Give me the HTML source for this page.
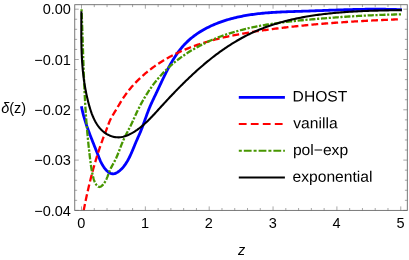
<!DOCTYPE html>
<html><head><meta charset="utf-8"><title>plot</title>
<style>
html,body{margin:0;padding:0;background:#fff;}
body{width:409px;height:260px;overflow:hidden;}
svg{display:block;will-change:transform;}
text{font-family:"Liberation Sans",sans-serif;font-size:14.5px;fill:#000;}
</style></head><body>
<svg width="409" height="260" viewBox="0 0 409 260">
<rect x="0" y="0" width="409" height="260" fill="#fff"/>
<defs><clipPath id="cp"><rect x="74.75" y="4.7" width="332.55" height="205.70000000000002"/></clipPath></defs>
<g clip-path="url(#cp)" fill="none" stroke-linejoin="round">
<path d="M81.42 106.19 L81.71 107.69 L82.02 109.18 L82.35 110.66 L82.69 112.13 L83.06 113.60 L83.44 115.07 L83.84 116.53 L84.25 117.98 L84.68 119.43 L85.12 120.87 L85.58 122.31 L86.05 123.75 L86.53 125.18 L87.02 126.61 L87.52 128.04 L88.03 129.46 L88.55 130.88 L89.07 132.30 L89.61 133.71 L90.14 135.13 L90.69 136.54 L91.24 137.95 L91.79 139.36 L92.35 140.77 L92.91 142.17 L93.47 143.58 L94.03 144.99 L94.59 146.40 L95.15 147.80 L95.71 149.21 L96.27 150.62 L96.83 152.03 L97.38 153.45 L97.92 154.86 L98.47 156.27 L99.03 157.68 L99.60 159.08 L100.19 160.47 L100.82 161.85 L101.49 163.20 L102.21 164.53 L102.98 165.83 L103.82 167.10 L104.73 168.34 L105.72 169.53 L106.79 170.68 L107.96 171.74 L109.21 172.64 L110.53 173.32 L111.92 173.73 L113.32 173.84 L114.71 173.62 L116.07 173.11 L117.38 172.38 L118.64 171.52 L119.83 170.58 L120.97 169.56 L122.04 168.48 L123.06 167.35 L124.03 166.16 L124.94 164.93 L125.81 163.66 L126.64 162.36 L127.43 161.04 L128.18 159.71 L128.89 158.36 L129.57 157.00 L130.23 155.64 L130.86 154.27 L131.47 152.90 L132.07 151.52 L132.65 150.14 L133.22 148.75 L133.79 147.37 L134.36 145.98 L134.93 144.59 L135.50 143.21 L136.08 141.82 L136.68 140.44 L137.29 139.06 L137.91 137.68 L138.54 136.29 L139.16 134.91 L139.77 133.52 L140.36 132.11 L140.93 130.70 L141.49 129.29 L142.04 127.87 L142.58 126.44 L143.11 125.01 L143.63 123.58 L144.14 122.15 L144.66 120.71 L145.17 119.28 L145.68 117.85 L146.19 116.43 L146.71 115.01 L147.23 113.59 L147.76 112.18 L148.29 110.78 L148.84 109.39 L149.40 108.00 L149.98 106.63 L150.56 105.27 L151.16 103.91 L151.77 102.57 L152.39 101.22 L153.02 99.88 L153.65 98.54 L154.29 97.20 L154.93 95.86 L155.58 94.52 L156.22 93.17 L156.87 91.81 L157.51 90.45 L158.16 89.08 L158.81 87.71 L159.45 86.33 L160.10 84.94 L160.76 83.56 L161.41 82.17 L162.07 80.77 L162.73 79.38 L163.40 77.99 L164.07 76.60 L164.75 75.21 L165.44 73.82 L166.13 72.44 L166.83 71.06 L167.54 69.68 L168.26 68.32 L168.98 66.95 L169.72 65.60 L170.47 64.25 L171.23 62.92 L172.00 61.59 L172.79 60.27 L173.59 58.97 L174.40 57.68 L175.23 56.40 L176.07 55.14 L176.93 53.89 L177.80 52.66 L178.70 51.44 L179.60 50.24 L180.53 49.06 L181.48 47.90 L182.44 46.76 L183.43 45.64 L184.44 44.54 L185.46 43.46 L186.51 42.41 L187.58 41.38 L188.67 40.37 L189.78 39.39 L190.91 38.43 L192.06 37.48 L193.23 36.56 L194.41 35.67 L195.61 34.79 L196.83 33.93 L198.07 33.10 L199.32 32.28 L200.59 31.49 L201.87 30.71 L203.16 29.96 L204.47 29.22 L205.80 28.51 L207.13 27.81 L208.48 27.13 L209.84 26.47 L211.21 25.83 L212.60 25.21 L213.99 24.61 L215.39 24.02 L216.80 23.45 L218.22 22.90 L219.65 22.37 L221.09 21.85 L222.53 21.35 L223.99 20.86 L225.44 20.40 L226.91 19.94 L228.37 19.51 L229.85 19.09 L231.33 18.68 L232.81 18.29 L234.29 17.92 L235.78 17.56 L237.27 17.21 L238.76 16.88 L240.25 16.56 L241.75 16.26 L243.24 15.97 L244.74 15.69 L246.23 15.43 L247.73 15.17 L249.23 14.93 L250.72 14.70 L252.22 14.49 L253.72 14.28 L255.22 14.08 L256.72 13.90 L258.23 13.72 L259.73 13.55 L261.23 13.40 L262.74 13.25 L264.24 13.11 L265.74 12.97 L267.25 12.85 L268.75 12.73 L270.26 12.62 L271.77 12.52 L273.27 12.42 L274.78 12.33 L276.29 12.24 L277.80 12.16 L279.31 12.08 L280.82 12.01 L282.33 11.94 L283.84 11.87 L285.35 11.81 L286.86 11.75 L288.37 11.70 L289.88 11.64 L291.39 11.59 L292.90 11.54 L294.42 11.49 L295.93 11.44 L297.44 11.40 L298.95 11.35 L300.47 11.30 L301.98 11.25 L303.49 11.20 L305.00 11.15 L306.52 11.10 L308.03 11.04 L309.54 10.99 L311.06 10.94 L312.57 10.88 L314.09 10.83 L315.60 10.77 L317.11 10.71 L318.63 10.66 L320.14 10.60 L321.66 10.55 L323.17 10.49 L324.68 10.43 L326.20 10.38 L327.71 10.32 L329.23 10.26 L330.74 10.21 L332.26 10.16 L333.77 10.10 L335.29 10.05 L336.80 10.00 L338.31 9.94 L339.83 9.89 L341.34 9.84 L342.86 9.80 L344.37 9.75 L345.89 9.70 L347.40 9.66 L348.92 9.62 L350.43 9.58 L351.95 9.54 L353.46 9.50 L354.98 9.46 L356.49 9.43 L358.01 9.40 L359.52 9.37 L361.04 9.34 L362.55 9.31 L364.06 9.29 L365.58 9.27 L367.09 9.25 L368.61 9.24 L370.12 9.23 L371.64 9.22 L373.15 9.21 L374.66 9.21 L376.18 9.21 L377.69 9.21 L379.21 9.21 L380.72 9.22 L382.23 9.24 L383.75 9.25 L385.26 9.27 L386.77 9.29 L388.29 9.32 L389.80 9.35 L391.31 9.39 L392.83 9.43 L394.34 9.47 L395.85 9.52 L397.36 9.57 L398.88 9.63 L400.39 9.69 L401.90 9.75" stroke="#0000ff" stroke-width="2.8"/>
<path d="M83.00 214.00 L83.26 212.62 L83.53 211.25 L83.80 209.87 L84.07 208.49 L84.34 207.11 L84.62 205.74 L84.89 204.36 L85.18 202.99 L85.46 201.61 L85.75 200.24 L86.04 198.86 L86.33 197.49 L86.63 196.11 L86.93 194.74 L87.23 193.37 L87.54 192.00 L87.85 190.63 L88.16 189.26 L88.47 187.89 L88.79 186.52 L89.12 185.15 L89.44 183.78 L89.78 182.42 L90.11 181.05 L90.45 179.69 L90.79 178.33 L91.14 176.97 L91.49 175.61 L91.84 174.25 L92.20 172.89 L92.56 171.53 L92.93 170.18 L93.30 168.82 L93.68 167.47 L94.06 166.12 L94.44 164.77 L94.83 163.42 L95.23 162.07 L95.62 160.73 L96.03 159.39 L96.44 158.04 L96.85 156.70 L97.27 155.37 L97.69 154.03 L98.12 152.69 L98.55 151.36 L98.99 150.03 L99.43 148.70 L99.88 147.37 L100.33 146.05 L100.79 144.73 L101.26 143.41 L101.73 142.09 L102.20 140.77 L102.68 139.46 L103.17 138.15 L103.66 136.84 L104.16 135.53 L104.67 134.22 L105.18 132.92 L105.69 131.62 L106.20 130.32 L106.70 129.01 L107.20 127.71 L107.68 126.39 L108.15 125.08 L108.64 123.77 L109.13 122.47 L109.65 121.18 L110.20 119.91 L110.80 118.66 L111.44 117.43 L112.13 116.22 L112.85 115.03 L113.59 113.85 L114.33 112.66 L115.06 111.48 L115.78 110.29 L116.50 109.09 L117.21 107.89 L117.92 106.69 L118.63 105.49 L119.34 104.29 L120.05 103.10 L120.78 101.90 L121.51 100.71 L122.25 99.53 L123.01 98.36 L123.79 97.19 L124.58 96.03 L125.39 94.89 L126.22 93.75 L127.06 92.62 L127.92 91.50 L128.79 90.39 L129.68 89.29 L130.59 88.20 L131.51 87.12 L132.44 86.06 L133.38 85.00 L134.34 83.95 L135.31 82.92 L136.30 81.89 L137.29 80.88 L138.30 79.88 L139.32 78.89 L140.35 77.91 L141.38 76.94 L142.43 75.99 L143.49 75.05 L144.56 74.12 L145.63 73.20 L146.72 72.30 L147.81 71.40 L148.90 70.53 L150.01 69.66 L151.12 68.81 L152.24 67.97 L153.37 67.14 L154.51 66.33 L155.65 65.52 L156.79 64.73 L157.95 63.95 L159.11 63.19 L160.28 62.43 L161.45 61.69 L162.63 60.96 L163.82 60.24 L165.01 59.53 L166.21 58.83 L167.41 58.14 L168.62 57.47 L169.84 56.80 L171.06 56.15 L172.29 55.51 L173.52 54.88 L174.76 54.25 L176.01 53.64 L177.26 53.04 L178.51 52.45 L179.77 51.87 L181.03 51.29 L182.30 50.73 L183.58 50.18 L184.86 49.63 L186.14 49.10 L187.43 48.58 L188.72 48.06 L190.02 47.55 L191.32 47.05 L192.62 46.57 L193.93 46.08 L195.25 45.61 L196.56 45.15 L197.88 44.69 L199.21 44.25 L200.54 43.81 L201.87 43.37 L203.21 42.95 L204.54 42.53 L205.89 42.13 L207.23 41.73 L208.58 41.33 L209.93 40.94 L211.29 40.57 L212.64 40.19 L214.00 39.83 L215.37 39.47 L216.73 39.12 L218.10 38.77 L219.47 38.43 L220.84 38.10 L222.22 37.77 L223.59 37.45 L224.97 37.13 L226.35 36.82 L227.74 36.52 L229.12 36.22 L230.51 35.93 L231.90 35.64 L233.29 35.36 L234.68 35.08 L236.07 34.81 L237.46 34.54 L238.86 34.27 L240.25 34.02 L241.65 33.76 L243.05 33.51 L244.45 33.27 L245.84 33.02 L247.24 32.79 L248.64 32.55 L250.04 32.32 L251.45 32.10 L252.85 31.87 L254.25 31.65 L255.65 31.44 L257.05 31.22 L258.45 31.01 L259.85 30.81 L261.26 30.60 L262.66 30.40 L264.06 30.20 L265.46 30.00 L266.86 29.81 L268.25 29.62 L269.65 29.43 L271.05 29.24 L272.45 29.06 L273.84 28.87 L275.24 28.69 L276.63 28.51 L278.03 28.34 L279.42 28.16 L280.82 27.99 L282.21 27.82 L283.61 27.65 L285.00 27.49 L286.39 27.32 L287.78 27.16 L289.18 27.00 L290.57 26.85 L291.96 26.69 L293.35 26.54 L294.74 26.39 L296.13 26.24 L297.53 26.09 L298.92 25.94 L300.31 25.80 L301.70 25.66 L303.09 25.52 L304.48 25.38 L305.87 25.24 L307.26 25.11 L308.65 24.98 L310.04 24.85 L311.43 24.72 L312.82 24.59 L314.20 24.46 L315.59 24.34 L316.98 24.22 L318.37 24.10 L319.76 23.98 L321.15 23.86 L322.54 23.74 L323.93 23.63 L325.32 23.52 L326.71 23.41 L328.10 23.30 L329.50 23.19 L330.89 23.08 L332.28 22.98 L333.67 22.87 L335.06 22.77 L336.45 22.67 L337.84 22.57 L339.24 22.47 L340.63 22.37 L342.02 22.28 L343.42 22.18 L344.81 22.09 L346.20 22.00 L347.60 21.91 L348.99 21.82 L350.39 21.73 L351.78 21.64 L353.18 21.56 L354.58 21.47 L355.97 21.39 L357.37 21.30 L358.77 21.22 L360.17 21.14 L361.57 21.06 L362.97 20.98 L364.37 20.91 L365.77 20.83 L367.17 20.75 L368.57 20.68 L369.98 20.61 L371.38 20.53 L372.79 20.46 L374.19 20.39 L375.60 20.32 L377.00 20.25 L378.41 20.18 L379.82 20.12 L381.23 20.05 L382.64 19.98 L384.05 19.92 L385.46 19.85 L386.87 19.79 L388.28 19.73 L389.70 19.66 L391.11 19.60 L392.53 19.54 L393.95 19.48 L395.36 19.42 L396.78 19.36 L398.20 19.30" stroke="#ff0000" stroke-width="2.3" stroke-dasharray="6.85 3.125" stroke-dashoffset="6.6"/>
<path d="M81.50 8.70 L81.58 10.59 L81.66 12.48 L81.73 14.37 L81.81 16.26 L81.89 18.15 L81.96 20.04 L82.03 21.93 L82.10 23.82 L82.17 25.71 L82.23 27.60 L82.30 29.49 L82.37 31.38 L82.43 33.27 L82.49 35.16 L82.56 37.05 L82.62 38.94 L82.68 40.83 L82.74 42.72 L82.80 44.61 L82.87 46.50 L82.93 48.39 L82.99 50.28 L83.05 52.17 L83.11 54.06 L83.17 55.95 L83.24 57.83 L83.30 59.72 L83.36 61.61 L83.43 63.50 L83.49 65.39 L83.56 67.28 L83.63 69.17 L83.70 71.06 L83.77 72.95 L83.84 74.84 L83.91 76.73 L83.99 78.62 L84.07 80.50 L84.15 82.39 L84.23 84.28 L84.31 86.17 L84.39 88.06 L84.48 89.95 L84.57 91.83 L84.66 93.72 L84.76 95.61 L84.86 97.50 L84.96 99.39 L85.06 101.27 L85.17 103.16 L85.28 105.05 L85.39 106.93 L85.51 108.82 L85.63 110.71 L85.75 112.60 L85.88 114.48 L86.01 116.37 L86.14 118.25 L86.28 120.14 L86.43 122.03 L86.57 123.91 L86.72 125.80 L86.88 127.68 L87.04 129.57 L87.21 131.45 L87.37 133.34 L87.55 135.22 L87.73 137.11 L87.91 138.99 L88.10 140.87 L88.29 142.75 L88.48 144.63 L88.68 146.51 L88.89 148.39 L89.10 150.27 L89.31 152.15 L89.53 154.02 L89.75 155.90 L89.97 157.77 L90.20 159.64 L90.44 161.51 L90.68 163.38 L90.93 165.25 L91.21 167.11 L91.50 168.97 L91.82 170.83 L92.18 172.68 L92.57 174.54 L93.00 176.38 L93.48 178.22 L94.02 180.06 L94.68 181.89 L95.58 183.69 L96.76 185.36 L98.15 186.58 L99.64 187.00 L101.15 186.46 L102.59 185.21 L103.90 183.57 L105.02 181.84 L105.97 180.10 L106.77 178.36 L107.48 176.62 L108.13 174.89 L108.76 173.16 L109.41 171.44 L110.13 169.74 L110.93 168.05 L111.79 166.38 L112.69 164.70 L113.61 163.03 L114.51 161.34 L115.38 159.65 L116.20 157.93 L116.97 156.20 L117.71 154.46 L118.41 152.71 L119.10 150.96 L119.78 149.20 L120.45 147.43 L121.13 145.68 L121.82 143.92 L122.53 142.17 L123.28 140.44 L124.05 138.71 L124.87 137.00 L125.71 135.30 L126.56 133.60 L127.43 131.92 L128.31 130.23 L129.18 128.55 L130.05 126.86 L130.89 125.18 L131.71 123.49 L132.51 121.79 L133.28 120.09 L134.05 118.39 L134.81 116.68 L135.58 114.98 L136.36 113.28 L137.16 111.58 L137.99 109.88 L138.83 108.19 L139.69 106.51 L140.57 104.83 L141.47 103.16 L142.38 101.49 L143.32 99.84 L144.28 98.19 L145.26 96.55 L146.26 94.93 L147.27 93.31 L148.31 91.71 L149.37 90.12 L150.44 88.55 L151.54 86.99 L152.66 85.45 L153.80 83.92 L154.95 82.41 L156.13 80.92 L157.33 79.45 L158.55 78.00 L159.79 76.57 L161.05 75.16 L162.33 73.77 L163.63 72.40 L164.95 71.05 L166.29 69.73 L167.64 68.43 L169.02 67.14 L170.41 65.88 L171.83 64.64 L173.26 63.42 L174.70 62.22 L176.16 61.04 L177.64 59.88 L179.14 58.74 L180.65 57.63 L182.17 56.53 L183.71 55.45 L185.27 54.39 L186.84 53.35 L188.42 52.33 L190.01 51.33 L191.62 50.35 L193.24 49.39 L194.87 48.45 L196.52 47.52 L198.17 46.62 L199.84 45.73 L201.52 44.86 L203.20 44.02 L204.90 43.18 L206.61 42.37 L208.32 41.58 L210.05 40.80 L211.78 40.04 L213.52 39.30 L215.27 38.58 L217.02 37.88 L218.79 37.19 L220.55 36.52 L222.33 35.87 L224.11 35.23 L225.90 34.61 L227.69 34.01 L229.48 33.43 L231.28 32.86 L233.09 32.30 L234.89 31.77 L236.71 31.25 L238.52 30.74 L240.34 30.25 L242.17 29.77 L244.00 29.31 L245.83 28.86 L247.67 28.42 L249.50 28.00 L251.35 27.59 L253.19 27.20 L255.04 26.81 L256.89 26.44 L258.75 26.08 L260.60 25.73 L262.46 25.39 L264.33 25.06 L266.19 24.75 L268.06 24.44 L269.93 24.14 L271.80 23.85 L273.67 23.57 L275.55 23.30 L277.42 23.04 L279.30 22.78 L281.18 22.54 L283.06 22.30 L284.94 22.07 L286.83 21.84 L288.71 21.62 L290.59 21.41 L292.48 21.20 L294.37 21.00 L296.25 20.81 L298.14 20.62 L300.03 20.43 L301.92 20.25 L303.81 20.07 L305.69 19.90 L307.58 19.72 L309.47 19.56 L311.36 19.39 L313.24 19.23 L315.13 19.07 L317.02 18.91 L318.90 18.75 L320.78 18.59 L322.67 18.44 L324.55 18.29 L326.44 18.14 L328.32 17.99 L330.20 17.85 L332.08 17.70 L333.96 17.56 L335.85 17.42 L337.73 17.29 L339.61 17.15 L341.49 17.02 L343.37 16.89 L345.25 16.76 L347.13 16.64 L349.01 16.52 L350.89 16.40 L352.78 16.28 L354.66 16.17 L356.54 16.06 L358.42 15.95 L360.30 15.84 L362.19 15.74 L364.07 15.64 L365.95 15.55 L367.84 15.45 L369.72 15.36 L371.61 15.28 L373.50 15.19 L375.38 15.11 L377.27 15.03 L379.16 14.96 L381.05 14.89 L382.94 14.82 L384.83 14.76 L386.72 14.70 L388.62 14.64 L390.51 14.59 L392.41 14.54 L394.30 14.50 L396.20 14.45 L398.10 14.42 L400.00 14.38 L401.90 14.35" stroke="#479600" stroke-width="2.3" stroke-dasharray="6.2 1.6 2.2 1.7" stroke-dashoffset="7.3"/>
<path d="M81.40 11.29 L81.40 12.90 L81.39 14.50 L81.38 16.10 L81.37 17.70 L81.36 19.29 L81.35 20.88 L81.34 22.46 L81.33 24.04 L81.33 25.62 L81.32 27.19 L81.32 28.76 L81.32 30.32 L81.32 31.88 L81.32 33.44 L81.32 35.00 L81.33 36.55 L81.34 38.11 L81.36 39.65 L81.38 41.20 L81.40 42.74 L81.43 44.29 L81.46 45.83 L81.49 47.36 L81.54 48.90 L81.58 50.44 L81.64 51.97 L81.69 53.50 L81.76 55.03 L81.83 56.56 L81.91 58.09 L82.00 59.62 L82.09 61.15 L82.19 62.68 L82.30 64.21 L82.42 65.73 L82.54 67.26 L82.68 68.79 L82.82 70.32 L82.97 71.84 L83.14 73.37 L83.31 74.90 L83.49 76.43 L83.68 77.96 L83.89 79.50 L84.10 81.03 L84.33 82.57 L84.57 84.10 L84.82 85.64 L85.08 87.18 L85.35 88.72 L85.64 90.27 L85.94 91.81 L86.25 93.36 L86.58 94.92 L86.92 96.47 L87.27 98.03 L87.64 99.59 L88.02 101.15 L88.42 102.72 L88.84 104.28 L89.27 105.85 L89.72 107.41 L90.19 108.97 L90.69 110.52 L91.21 112.05 L91.75 113.57 L92.33 115.07 L92.93 116.54 L93.57 117.99 L94.24 119.42 L94.94 120.81 L95.68 122.17 L96.46 123.49 L97.28 124.78 L98.15 126.02 L99.05 127.21 L100.01 128.36 L101.01 129.46 L102.06 130.50 L103.16 131.48 L104.31 132.40 L105.52 133.26 L106.79 134.05 L108.11 134.77 L109.49 135.42 L110.93 136.00 L112.42 136.48 L113.93 136.87 L115.47 137.15 L117.03 137.32 L118.59 137.37 L120.14 137.29 L121.69 137.07 L123.21 136.74 L124.72 136.31 L126.20 135.79 L127.67 135.20 L129.11 134.55 L130.52 133.84 L131.90 133.11 L133.25 132.34 L134.58 131.53 L135.88 130.69 L137.15 129.83 L138.41 128.93 L139.64 128.01 L140.85 127.06 L142.04 126.09 L143.22 125.09 L144.37 124.07 L145.51 123.04 L146.64 121.98 L147.76 120.91 L148.86 119.82 L149.95 118.72 L151.03 117.60 L152.11 116.47 L153.18 115.34 L154.24 114.19 L155.30 113.04 L156.36 111.89 L157.41 110.73 L158.46 109.56 L159.52 108.40 L160.58 107.24 L161.64 106.08 L162.70 104.92 L163.76 103.76 L164.83 102.60 L165.90 101.44 L166.97 100.29 L168.05 99.13 L169.13 97.98 L170.21 96.83 L171.29 95.69 L172.38 94.54 L173.47 93.40 L174.56 92.27 L175.66 91.13 L176.76 90.00 L177.86 88.87 L178.97 87.74 L180.08 86.62 L181.19 85.51 L182.31 84.39 L183.43 83.28 L184.55 82.18 L185.68 81.07 L186.81 79.98 L187.95 78.89 L189.08 77.80 L190.23 76.72 L191.37 75.64 L192.52 74.57 L193.68 73.50 L194.83 72.44 L196.00 71.38 L197.16 70.33 L198.33 69.29 L199.51 68.25 L200.69 67.22 L201.87 66.20 L203.06 65.18 L204.25 64.17 L205.44 63.16 L206.64 62.17 L207.85 61.18 L209.06 60.19 L210.27 59.22 L211.49 58.25 L212.72 57.29 L213.94 56.34 L215.18 55.40 L216.42 54.46 L217.66 53.54 L218.91 52.62 L220.16 51.71 L221.42 50.81 L222.68 49.92 L223.95 49.04 L225.22 48.16 L226.50 47.30 L227.79 46.45 L229.08 45.60 L230.37 44.77 L231.67 43.95 L232.98 43.13 L234.29 42.33 L235.61 41.54 L236.93 40.76 L238.26 39.99 L239.60 39.23 L240.94 38.48 L242.28 37.74 L243.64 37.02 L245.00 36.30 L246.36 35.60 L247.73 34.91 L249.11 34.23 L250.49 33.57 L251.88 32.92 L253.27 32.27 L254.68 31.65 L256.08 31.03 L257.50 30.43 L258.92 29.84 L260.34 29.26 L261.77 28.69 L263.21 28.13 L264.65 27.59 L266.10 27.06 L267.55 26.53 L269.01 26.02 L270.47 25.53 L271.94 25.04 L273.42 24.56 L274.89 24.09 L276.38 23.64 L277.86 23.19 L279.35 22.76 L280.85 22.33 L282.35 21.92 L283.85 21.51 L285.36 21.12 L286.87 20.73 L288.39 20.36 L289.90 19.99 L291.43 19.63 L292.95 19.29 L294.48 18.95 L296.01 18.62 L297.55 18.30 L299.09 17.98 L300.63 17.68 L302.17 17.38 L303.72 17.10 L305.27 16.82 L306.82 16.55 L308.38 16.28 L309.93 16.03 L311.49 15.78 L313.05 15.54 L314.61 15.31 L316.18 15.08 L317.74 14.86 L319.31 14.65 L320.88 14.45 L322.45 14.25 L324.02 14.06 L325.60 13.87 L327.17 13.70 L328.75 13.52 L330.32 13.36 L331.90 13.20 L333.48 13.04 L335.06 12.89 L336.63 12.75 L338.21 12.61 L339.79 12.48 L341.37 12.35 L342.95 12.23 L344.53 12.12 L346.11 12.00 L347.69 11.90 L349.26 11.79 L350.84 11.70 L352.42 11.60 L353.99 11.51 L355.57 11.43 L357.14 11.34 L358.72 11.27 L360.29 11.19 L361.86 11.12 L363.43 11.05 L365.00 10.99 L366.56 10.93 L368.13 10.87 L369.69 10.81 L371.25 10.76 L372.81 10.71 L374.37 10.66 L375.92 10.62 L377.47 10.58 L379.02 10.54 L380.57 10.50 L382.11 10.46 L383.65 10.43 L385.19 10.39 L386.73 10.36 L388.26 10.33 L389.79 10.30 L391.31 10.27 L392.84 10.25 L394.36 10.22 L395.87 10.20 L397.38 10.17 L398.89 10.15 L400.39 10.12 L401.89 10.10" stroke="#000000" stroke-width="2.1"/>
</g>
<rect x="74.75" y="4.7" width="332.55" height="205.70000000000002" fill="none" stroke="#6a6a6a" stroke-width="0.9"/>
<path d="M81.50 210.40 v-4.00 M81.50 4.70 v4.00 M94.27 210.40 v-2.40 M94.27 4.70 v2.40 M107.04 210.40 v-2.40 M107.04 4.70 v2.40 M119.81 210.40 v-2.40 M119.81 4.70 v2.40 M132.58 210.40 v-2.40 M132.58 4.70 v2.40 M145.35 210.40 v-4.00 M145.35 4.70 v4.00 M158.12 210.40 v-2.40 M158.12 4.70 v2.40 M170.89 210.40 v-2.40 M170.89 4.70 v2.40 M183.66 210.40 v-2.40 M183.66 4.70 v2.40 M196.43 210.40 v-2.40 M196.43 4.70 v2.40 M209.20 210.40 v-4.00 M209.20 4.70 v4.00 M221.97 210.40 v-2.40 M221.97 4.70 v2.40 M234.74 210.40 v-2.40 M234.74 4.70 v2.40 M247.51 210.40 v-2.40 M247.51 4.70 v2.40 M260.28 210.40 v-2.40 M260.28 4.70 v2.40 M273.05 210.40 v-4.00 M273.05 4.70 v4.00 M285.82 210.40 v-2.40 M285.82 4.70 v2.40 M298.59 210.40 v-2.40 M298.59 4.70 v2.40 M311.36 210.40 v-2.40 M311.36 4.70 v2.40 M324.13 210.40 v-2.40 M324.13 4.70 v2.40 M336.90 210.40 v-4.00 M336.90 4.70 v4.00 M349.67 210.40 v-2.40 M349.67 4.70 v2.40 M362.44 210.40 v-2.40 M362.44 4.70 v2.40 M375.21 210.40 v-2.40 M375.21 4.70 v2.40 M387.98 210.40 v-2.40 M387.98 4.70 v2.40 M400.75 210.40 v-4.00 M400.75 4.70 v4.00 M74.75 9.20 h4.00 M407.30 9.20 h-4.00 M74.75 19.26 h2.40 M407.30 19.26 h-2.40 M74.75 29.32 h2.40 M407.30 29.32 h-2.40 M74.75 39.38 h2.40 M407.30 39.38 h-2.40 M74.75 49.44 h2.40 M407.30 49.44 h-2.40 M74.75 59.50 h4.00 M407.30 59.50 h-4.00 M74.75 69.56 h2.40 M407.30 69.56 h-2.40 M74.75 79.62 h2.40 M407.30 79.62 h-2.40 M74.75 89.68 h2.40 M407.30 89.68 h-2.40 M74.75 99.74 h2.40 M407.30 99.74 h-2.40 M74.75 109.80 h4.00 M407.30 109.80 h-4.00 M74.75 119.86 h2.40 M407.30 119.86 h-2.40 M74.75 129.92 h2.40 M407.30 129.92 h-2.40 M74.75 139.98 h2.40 M407.30 139.98 h-2.40 M74.75 150.04 h2.40 M407.30 150.04 h-2.40 M74.75 160.10 h4.00 M407.30 160.10 h-4.00 M74.75 170.16 h2.40 M407.30 170.16 h-2.40 M74.75 180.22 h2.40 M407.30 180.22 h-2.40 M74.75 190.28 h2.40 M407.30 190.28 h-2.40 M74.75 200.34 h2.40 M407.30 200.34 h-2.40 M74.75 210.40 h4.00 M407.30 210.40 h-4.00" fill="none" stroke="#606060" stroke-width="0.55"/>
<g opacity="0.999"><text x="70.9" y="14.40" text-anchor="end">0.00</text><text x="70.9" y="64.70" text-anchor="end">−0.01</text><text x="70.9" y="115.00" text-anchor="end">−0.02</text><text x="70.9" y="165.30" text-anchor="end">−0.03</text><text x="70.9" y="215.60" text-anchor="end">−0.04</text></g>
<g opacity="0.999"><text x="81.20" y="227.8" text-anchor="middle">0</text><text x="145.05" y="227.8" text-anchor="middle">1</text><text x="208.90" y="227.8" text-anchor="middle">2</text><text x="272.75" y="227.8" text-anchor="middle">3</text><text x="336.60" y="227.8" text-anchor="middle">4</text><text x="400.45" y="227.8" text-anchor="middle">5</text></g>
<text x="1.2" y="112.6"><tspan font-style="italic">δ</tspan>(z)</text>
<text x="241.5" y="254.6" text-anchor="middle" font-style="italic">z</text>
<g fill="none">
<path d="M238.8 97.3 H284.9" stroke="#0000ff" stroke-width="2.7"/>
<path d="M238.8 124.1 H284.9" stroke="#ff0000" stroke-width="2.0" stroke-dasharray="7.8 4.2"/>
<path d="M238.8 150.7 H284.9" stroke="#479600" stroke-width="2.0" stroke-dasharray="7.8 2 3 2" stroke-dashoffset="-5"/>
<path d="M238.8 177.5 H284.9" stroke="#000" stroke-width="2.0"/>
</g>
<g>
<text transform="translate(292.6 101.5) rotate(0.03) scale(1.03 1)" style="font-size:15.2px">DHOST</text>
<text transform="translate(293.3 128.29999999999998) rotate(0.03) scale(1.03 1)" style="font-size:15.2px">vanilla</text>
<text transform="translate(292.9 154.89999999999998) rotate(0.03) scale(1.03 1)" style="font-size:15.2px">pol−exp</text>
<text transform="translate(292.5 181.7) rotate(0.03) scale(1.03 1)" style="font-size:15.2px">exponential</text>
</g>
</svg>
</body></html>
